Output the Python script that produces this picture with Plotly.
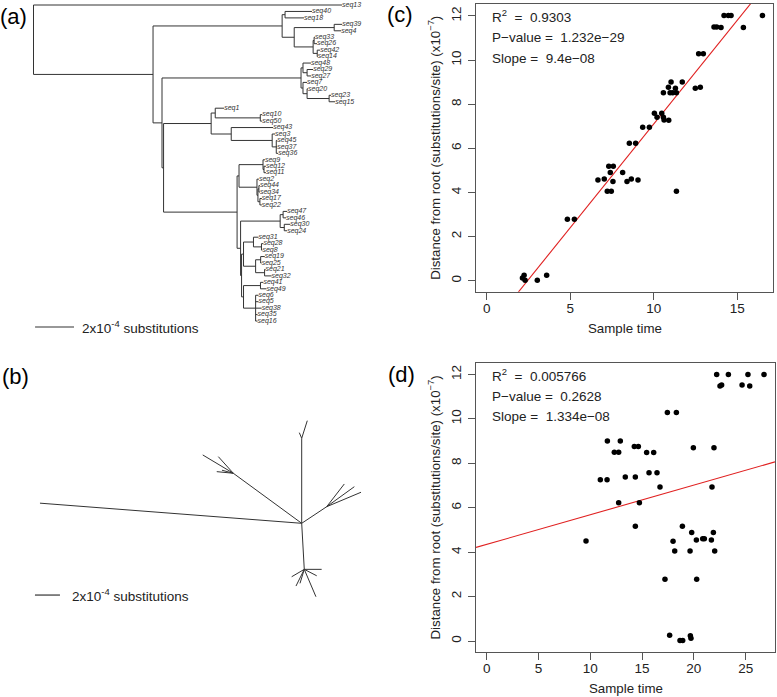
import plotly.graph_objects as go
import math

W, H = 777, 697
FONT = "Liberation Sans, Arial, Helvetica, sans-serif"

# ---------------- (a) rooted tree: clades in Newick, branch lengths in 1e-4 subst/site
CLADE_B1 = "(seq40:1.38,seq18:0.97):0.15"
CLADE_B2A = "(seq39:0.41,seq4:0.36):2.05"
CLADE_B2B = "((seq33:0.05,seq26:0.15):0.05,(seq42:0.15,seq14:0.03):0.21):0.97"
CLADE_D1 = "(seq48:0.41,(seq29:0.31,seq27:0.21):0.21):0.10"
CLADE_D2 = "(seq7:0.21,(seq20:0.05,(seq23:0.10,seq15:0.31):1.13):0.21):0.10"
CLADE_F1 = "(seq1:0.46,(seq10:0.10,seq50:0.10):2.31):0.21"
CLADE_F2 = "(seq43:2.15,(seq3:0.15,(seq45:0.05,seq37:0.05,seq36:0.10):0.21):2.10):1.03"
CLADE_H = "(seq9:0.10,(seq12:0.10,seq11:0.10):0.05):1.23"
CLADE_I = "(seq2:0.10,((seq44:0.05,seq34:0.05):0.05,(seq17:0.10,seq22:0.10):0.10):0.05):0.92"
CLADE_J = "((seq47:0.21,seq46:0.15):0.15,(seq30:0.31,seq24:0.15):0.21):2.03"
CLADE_K1 = "(seq31:0.26,(seq28:0.10,seq8:0.05):0.41):0.51"
CLADE_K2 = "((seq19:0.21,seq25:0.05):0.26,(seq21:0.05,seq32:0.36):0.46):0.62"
CLADE_L1 = "(seq41:0.15,seq49:0.31):0.87"
CLADE_L2 = "(seq6:0.15,seq5:0.15,seq38:0.31,seq35:0.10,seq16:0.10):0.62"
SEQ13_LEN = 15.82
INTERNAL_LEN = {"A": 6.13, "B": 6.62, "B2": 0.62, "C": 0.46, "D": 7.13, "G": 0.08,
                "F": 2.44, "E": 3.77, "E1": 0.10, "E2": 0.18, "KL": 0.05, "K": 0.10, "L": 0.10}

SCALE_BAR = 2.0   # 2x10^-4 substitutions

# ---------------- (b) unrooted tree: edges (length in 1e-4 subst/site, angle in degrees)
B_FROM = ["O", "O", "U", "U", "O", "UL", "UL", "UL", "UL", "O", "R", "R", "R",
          "O", "Dn", "Dn", "Dn", "Dn", "Dn", "Dn"]
B_TO = ["t1", "U", "t2", "t3", "UL", "t4", "t5", "t6", "t7", "R", "t8", "t9", "t10",
        "Dn", "t11", "t12", "t13", "t14", "t15", "t16"]
B_LEN = [21.0, 6.8, 1.48, 0.49, 6.78, 2.85, 1.79, 1.33, 0.94, 2.4, 2.30, 2.73, 2.98,
         3.69, 1.39, 2.38, 1.17, 1.49, 1.17, 1.12]
B_ANGLE = [175.6, 90, 72.4, 113, 143.8, 149.1, 132.1, 174.5, 165, 33.6, 52.2, 35.9, 22.8,
           -86.8, 0, -66.9, -149.6, -116.4, -107, -27.3]

# ---------------- (c) and (d) root-to-tip regressions (distance in 1e-7)
C_TIME = [2.14, 2.24, 2.30, 3.03, 3.59, 4.83, 5.25, 6.66, 7.04, 7.22, 7.46, 7.56, 7.31, 7.58,
          7.40, 8.14, 8.40, 8.66, 9.06, 8.54, 8.92, 9.34, 9.74, 10.04, 10.48, 10.20, 10.58,
          10.62, 10.90, 10.58, 10.98, 11.14, 11.36, 10.88, 11.30, 11.04, 11.71, 11.36, 12.49,
          12.79, 12.69, 12.97, 13.61, 13.77, 14.03, 15.37, 14.21, 14.47, 14.63, 16.51]
C_DIST = [0.12, 0.25, 0.02, 0.02, 0.25, 2.78, 2.78, 4.56, 4.61, 4.05, 4.05, 4.50, 5.19, 5.19,
          4.90, 4.90, 4.50, 4.61, 4.56, 6.23, 6.23, 6.95, 6.95, 7.59, 7.59, 7.41, 7.41,
          7.28, 7.27, 8.52, 8.52, 8.52, 8.52, 8.77, 8.72, 9.00, 9.00, 4.05, 8.72,
          8.77, 10.29, 10.29, 11.50, 11.50, 11.48, 11.48, 12.02, 12.02, 12.02, 12.02]
D_TIME = [9.59, 10.97, 11.62, 11.65, 12.32, 12.74, 12.90, 12.74, 13.38, 14.25, 14.64, 14.35,
          14.74, 14.35, 15.44, 16.12, 15.67, 16.44, 16.73, 17.44, 18.31, 17.21, 17.66, 17.99,
          18.15, 18.66, 18.92, 18.89, 19.63, 19.66, 19.72, 19.79, 19.95, 20.24, 20.27, 20.85,
          21.01, 21.69, 21.75, 21.88, 21.94, 22.01, 22.20, 22.52, 22.68, 23.33, 24.65, 25.22,
          25.39, 26.77]
D_DIST = [4.50, 7.26, 7.26, 9.00, 8.50, 8.50, 9.00, 6.22, 7.38, 8.76, 8.76, 7.38, 6.22, 5.17,
          8.49, 8.49, 7.57, 7.57, 6.93, 10.29, 10.29, 2.78, 0.26, 4.49, 4.05, 0.02, 0.02, 5.17,
          4.05, 0.24, 0.12, 4.89, 8.70, 4.55, 2.78, 4.60, 4.60, 4.55, 6.93, 4.89, 8.70, 4.05,
          12.00, 11.48, 11.52, 12.00, 11.52, 12.00, 11.48, 12.00]
C_FIT = (0.94, -2.30)      # slope, intercept (display units)
D_FIT = (0.1334, 4.35)
C_STATS = ["R<sup>2</sup>  =  0.9303", "P\u2212value =  1.232e\u221229", "Slope =  9.4e\u221208"]
D_STATS = ["R<sup>2</sup>  =  0.005766", "P\u2212value =  0.2628", "Slope =  1.334e\u221208"]
C_XTICKS = [0, 5, 10, 15]
D_XTICKS = [0, 5, 10, 15, 20, 25]
Y_TICKS = [0, 2, 4, 6, 8, 10, 12]
C_XRANGE, C_YRANGE = [-0.64, 17.16], [-0.5, 12.54]
D_XRANGE, D_YRANGE = [-1.03, 27.83], [-0.48, 12.5]

# ---------------- build newick
def cl(*parts, name):
    return "(" + ",".join(parts) + "):" + str(INTERNAL_LEN[name])

B2 = cl(CLADE_B2A, CLADE_B2B, name="B2")
B = cl(CLADE_B1, B2, name="B")
D = cl(CLADE_D1, CLADE_D2, name="D")
F = cl(CLADE_F1, CLADE_F2, name="F")
E1 = cl(CLADE_H, CLADE_I, name="E1")
K = cl(CLADE_K1, CLADE_K2, name="K")
L = cl(CLADE_L1, CLADE_L2, name="L")
KL = cl(K, L, name="KL")
E2 = cl(CLADE_J, KL, name="E2")
E = cl(E1, E2, name="E")
G = cl(F, E, name="G")
C = cl(D, G, name="C")
A = cl(B, C, name="A")
NEWICK = "(seq13:%s,%s);" % (SEQ13_LEN, A)


def parse_newick(s):
    s = s.strip().rstrip(";")
    pos = [0]

    def node():
        n = {"name": "", "len": 0.0, "children": []}
        if s[pos[0]] == "(":
            pos[0] += 1
            while True:
                n["children"].append(node())
                ch = s[pos[0]]
                pos[0] += 1
                if ch == ")":
                    break
        st = pos[0]
        while pos[0] < len(s) and s[pos[0]] not in ":,)":
            pos[0] += 1
        n["name"] = s[st:pos[0]]
        if pos[0] < len(s) and s[pos[0]] == ":":
            pos[0] += 1
            st = pos[0]
            while pos[0] < len(s) and s[pos[0]] not in ",)":
                pos[0] += 1
            n["len"] = float(s[st:pos[0]])
        return n
    return node()


root = parse_newick(NEWICK)
leaves = []


def layout(n, x0):
    n["x"] = x0 + n["len"]
    if not n["children"]:
        leaves.append(n)
        n["y"] = len(leaves)
    else:
        for c in n["children"]:
            layout(c, n["x"])
        n["y"] = (n["children"][0]["y"] + n["children"][-1]["y"]) / 2


root["len"] = 0.0
layout(root, 0.0)
ax_x, ax_y = [], []


def segs(n):
    if n["children"]:
        ax_x.extend([n["x"], n["x"], None])
        ax_y.extend([n["children"][0]["y"], n["children"][-1]["y"], None])
        for c in n["children"]:
            ax_x.extend([n["x"], c["x"], None])
            ax_y.extend([c["y"], c["y"], None])
            segs(c)


segs(root)

# ---------------- unrooted coordinates
pos_b = {"O": (0.0, 0.0)}
bx, by = [], []
for f, t, ln, ang in zip(B_FROM, B_TO, B_LEN, B_ANGLE):
    x0, y0 = pos_b[f]
    x1 = x0 + ln * math.cos(math.radians(ang))
    y1 = y0 + ln * math.sin(math.radians(ang))
    pos_b[t] = (x1, y1)
    bx.extend([x0, x1, None])
    by.extend([y0, y1, None])

LINE_COL = "#333333"
fig = go.Figure()
fig.add_trace(go.Scatter(x=ax_x, y=ax_y, mode="lines", line=dict(color=LINE_COL, width=1),
                         xaxis="x", yaxis="y", hoverinfo="skip"))
fig.add_trace(go.Scatter(x=[l["x"] for l in leaves], y=[l["y"] for l in leaves], mode="text",
                         text=["<i>%s</i>" % l["name"] for l in leaves], textposition="middle right",
                         textfont=dict(family=FONT, size=7, color="#333"), xaxis="x", yaxis="y",
                         hoverinfo="skip"))
# scale bar (a)
sa_x0, sa_y = 0.08, 50.92
fig.add_trace(go.Scatter(x=[sa_x0, sa_x0 + SCALE_BAR], y=[sa_y, sa_y], mode="lines",
                         line=dict(color=LINE_COL, width=1.2), xaxis="x", yaxis="y", hoverinfo="skip"))

fig.add_trace(go.Scatter(x=bx, y=by, mode="lines", line=dict(color=LINE_COL, width=1),
                         xaxis="x2", yaxis="y2", hoverinfo="skip"))
sb_x0, sb_y = -21.34, -5.74
fig.add_trace(go.Scatter(x=[sb_x0, sb_x0 + SCALE_BAR], y=[sb_y, sb_y], mode="lines",
                         line=dict(color=LINE_COL, width=1.2), xaxis="x2", yaxis="y2", hoverinfo="skip"))

for xs, ys, fit, xr, xa, ya in [(C_TIME, C_DIST, C_FIT, C_XRANGE, "x3", "y3"),
                                (D_TIME, D_DIST, D_FIT, D_XRANGE, "x4", "y4")]:
    fig.add_trace(go.Scatter(x=[xr[0], xr[1]], y=[fit[0] * xr[0] + fit[1], fit[0] * xr[1] + fit[1]],
                             mode="lines", line=dict(color="#e02020", width=1.1), xaxis=xa, yaxis=ya,
                             hoverinfo="skip"))
    fig.add_trace(go.Scatter(x=xs, y=ys, mode="markers", marker=dict(color="black", size=5.5),
                             xaxis=xa, yaxis=ya, hoverinfo="skip"))


def px(x):
    return x / W


def py(y):
    return 1 - y / H


hidden = dict(visible=False, showgrid=False, zeroline=False)
common = dict(showgrid=False, zeroline=False, showline=True, mirror=True, linecolor="#555",
              linewidth=1, ticks="outside", ticklen=7, tickcolor="#555",
              tickfont=dict(family=FONT, size=13.5, color="#222"))
fig.update_layout(
    width=W, height=H, margin=dict(l=0, r=0, t=0, b=0), showlegend=False,
    paper_bgcolor="white", plot_bgcolor="white",
    xaxis=dict(domain=[0, px(390)], range=[-33.5 / 19.5, (390 - 33.5) / 19.5], **hidden),
    yaxis=dict(domain=[py(340), 1], range=[(340 - 5) / 6.45 + 1, (0 - 5) / 6.45 + 1], **hidden),
    xaxis2=dict(domain=[0, px(390)], range=[-301.7 / 12.5, (390 - 301.7) / 12.5], **hidden),
    yaxis2=dict(domain=[0, py(340)], range=[(523.3 - 697) / 12.5, (523.3 - 340) / 12.5], **hidden),
    xaxis3=dict(domain=[px(476), px(773.3)], range=C_XRANGE, tickvals=C_XTICKS, anchor="y3",
                ticklabelstandoff=-3, **common),
    yaxis3=dict(domain=[py(291.7), py(4)], range=C_YRANGE, tickvals=Y_TICKS, tickangle=-90,
                anchor="x3", ticklabelstandoff=2, **common),
    xaxis4=dict(domain=[px(476), px(775)], range=D_XRANGE, tickvals=D_XTICKS, anchor="y4",
                ticklabelstandoff=-3, **common),
    yaxis4=dict(domain=[py(651.7), py(363.3)], range=D_YRANGE, tickvals=Y_TICKS, tickangle=-90,
                anchor="x4", ticklabelstandoff=2, **common),
)

ann = []
for t, x, y in [("(a)", 13.3, 16.7), ("(b)", 15, 376.7), ("(c)", 400, 15), ("(d)", 401, 375)]:
    ann.append(dict(text=t, x=px(x), y=py(y), xref="paper", yref="paper", showarrow=False,
                    xanchor="center", yanchor="middle", font=dict(family=FONT, size=22, color="black")))
SCALE_TXT = "2x10<sup>-4</sup> substitutions"
ann.append(dict(text=SCALE_TXT, x=sa_x0 + SCALE_BAR + 6 / 19.5, y=sa_y, xref="x", yref="y",
                showarrow=False, xanchor="left", yanchor="middle",
                font=dict(family=FONT, size=13.5, color="#222")))
ann.append(dict(text=SCALE_TXT, x=sb_x0 + SCALE_BAR + 10 / 12.5, y=sb_y, xref="x2", yref="y2",
                showarrow=False, xanchor="left", yanchor="middle",
                font=dict(family=FONT, size=13.5, color="#222")))
for stats, ys in [(C_STATS, [16, 37.3, 58.3]), (D_STATS, [375, 396, 416.7])]:
    for t, y in zip(stats, ys):
        ann.append(dict(text=t, x=px(489.5), y=py(y), xref="paper", yref="paper", showarrow=False,
                        xanchor="left", yanchor="middle", font=dict(family=FONT, size=13.5, color="#222")))
YT = "Distance from root (substitutions/site) (x10<sup>\u22127</sup>)"
for xc, yb, yc in [((476 + 773.3) / 2, 328, (4 + 291.7) / 2), ((476 + 775) / 2, 688, (363.3 + 651.7) / 2)]:
    ann.append(dict(text="Sample time", x=px(xc), y=py(yb), xref="paper", yref="paper", showarrow=False,
                    xanchor="center", yanchor="middle", font=dict(family=FONT, size=13.3, color="#222")))
    ann.append(dict(text=YT, x=px(435), y=py(yc), xref="paper", yref="paper", showarrow=False,
                    textangle=-90, xanchor="center", yanchor="middle",
                    font=dict(family=FONT, size=13.3, color="#222")))
fig.update_layout(annotations=ann)

fig.write_html("out.html", config={"displayModeBar": False, "staticPlot": True},
               post_script="document.body.style.margin='0';document.body.style.overflow='hidden';")
